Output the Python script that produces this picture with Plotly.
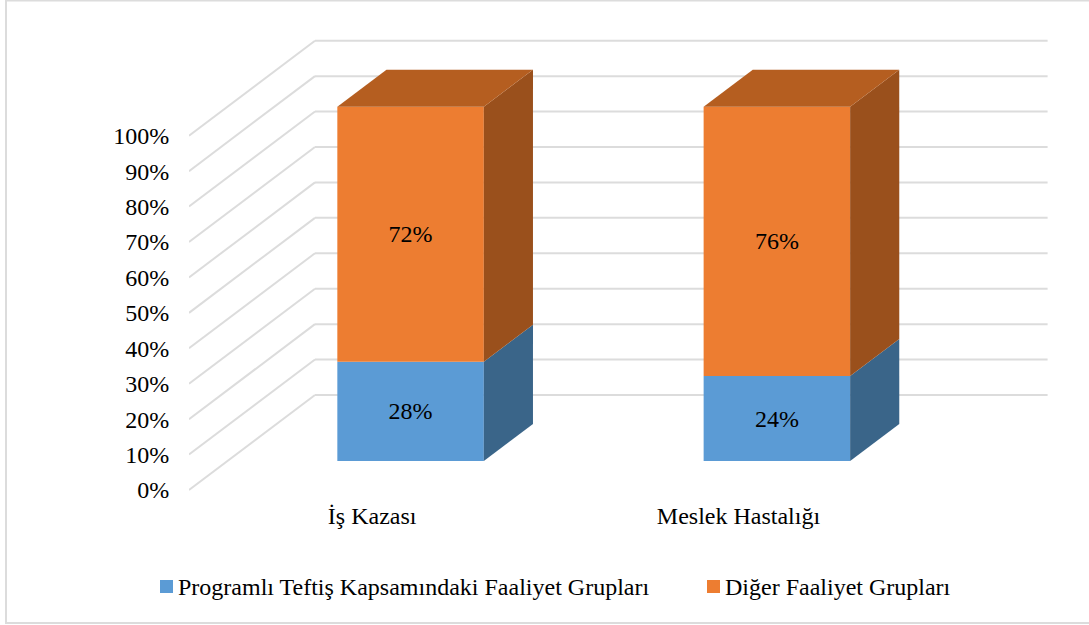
import plotly.graph_objects as go

categories = ["İş Kazası", "Meslek Hastalığı"]
program_values = [28, 24]
other_values = [72, 76]
y_ticks = [0, 10, 20, 30, 40, 50, 60, 70, 80, 90, 100]
legend_names = ["Programlı Teftiş Kapsamındaki Faaliyet Grupları", "Diğer Faaliyet Grupları"]

FONT = "Liberation Serif"
FS = 24
W, H = 1089, 625
L, R, T, B = 189, 1048, 30, 495
PX_PER_CAT = 366.3
PX_PER_PCT = 3.543
Y0_PX = 490.0
DEPTH_DX = 126 / PX_PER_CAT
DEPTH_DY = 95 / PX_PER_PCT
BAR_W = 146.5 / PX_PER_CAT
D_FRONT, D_BACK = 0.305, 0.695
GRID = "#DCDCDC"

x_range = [-0.5, -0.5 + (R - L) / PX_PER_CAT]
y_range = [(Y0_PX - B) / PX_PER_PCT, (Y0_PX - T) / PX_PER_PCT]


def proj(x, pct, d):
    return x + d * DEPTH_DX, pct + d * DEPTH_DY


fig = go.Figure()
shapes = []
# wall + back gridlines
for t in y_ticks:
    xb, yb = proj(-0.5, t, 1)
    xe, _ = proj(1.5, t, 1)
    for x0, y0, x1, y1 in [(-0.5, t, xb, yb), (xb, yb, xe, yb)]:
        shapes.append(dict(type="line", xref="x", yref="y", x0=x0, y0=y0, x1=x1, y1=y1,
                           layer="below", line=dict(color=GRID, width=2)))

positions = list(range(len(categories)))
front_x = [proj(p, 0, D_FRONT)[0] for p in positions]
base0 = proj(0, 0, D_FRONT)[1]

fig.add_bar(x=front_x, y=program_values, base=[base0] * 2, width=BAR_W,
            marker=dict(color="#5B9BD5", line=dict(width=0)),
            text=[f"{v}%" for v in program_values], textposition="inside",
            insidetextanchor="middle", textangle=0, constraintext="none",
            textfont=dict(family=FONT, size=FS, color="#000000"),
            name=legend_names[0], hoverinfo="skip")
fig.add_bar(x=front_x, y=other_values, base=[base0 + v for v in program_values], width=BAR_W,
            marker=dict(color="#ED7D31", line=dict(width=0)),
            text=[f"{v}%" for v in other_values], textposition="inside",
            insidetextanchor="middle", textangle=0, constraintext="none",
            textfont=dict(family=FONT, size=FS, color="#000000"),
            name=legend_names[1], hoverinfo="skip")


def face(pts, color):
    fig.add_scatter(x=[p[0] for p in pts], y=[p[1] for p in pts], mode="lines", fill="toself",
                    fillcolor=color, line=dict(width=0, color=color), showlegend=False, hoverinfo="skip")


for p, low, high in zip(positions, program_values, other_values):
    xr = p + BAR_W / 2
    xl = p - BAR_W / 2
    # right side, blue
    face([proj(xr, 0, D_FRONT), proj(xr, 0, D_BACK), proj(xr, low, D_BACK), proj(xr, low, D_FRONT)], "#3A6589")
    # right side, orange
    face([proj(xr, low, D_FRONT), proj(xr, low, D_BACK), proj(xr, low + high, D_BACK),
          proj(xr, low + high, D_FRONT)], "#9A501C")
    # top
    top = low + high
    face([proj(xl, top, D_FRONT), proj(xr, top, D_FRONT), proj(xr, top, D_BACK), proj(xl, top, D_BACK)], "#B55E20")

# legend drawn to match the reference's tight swatch spacing
annotations = []
for name, color, sx, tx in [(legend_names[0], "#5B9BD5", 160, 177), (legend_names[1], "#ED7D31", 707, 724)]:
    shapes.append(dict(type="rect", xref="paper", yref="paper",
                       x0=(sx - L) / (R - L), x1=(sx + 13 - L) / (R - L),
                       y0=(B - 593) / (B - T), y1=(B - 580) / (B - T),
                       fillcolor=color, line=dict(width=0)))
    annotations.append(dict(xref="paper", yref="paper", x=(tx - L) / (R - L), y=(B - 587) / (B - T),
                            xanchor="left", yanchor="middle", text=name, showarrow=False,
                            xshift=-1, font=dict(family=FONT, size=FS, color="#000000")))

# outer frame (its right edge runs off the picture, as in the reference)
shapes.append(dict(type="rect", xref="paper", yref="paper",
                   x0=(6 - L) / (R - L), x1=(1100 - L) / (R - L),
                   y0=(B - 623) / (B - T), y1=(B - 0.5) / (B - T),
                   line=dict(color=GRID, width=2), layer="below"))

fig.update_layout(
    width=W, height=H, margin=dict(l=L, r=W - R, t=T, b=H - B, pad=0),
    paper_bgcolor="#FFFFFF", plot_bgcolor="#FFFFFF", showlegend=False,
    barmode="overlay", shapes=shapes, annotations=annotations,
    font=dict(family=FONT, size=FS, color="#000000"),
    xaxis=dict(range=x_range, tickmode="array", tickvals=positions, ticktext=categories,
               showgrid=False, zeroline=False, showline=False, ticks="", ticklabelstandoff=4,
               tickfont=dict(family=FONT, size=FS, color="#000000")),
    yaxis=dict(range=y_range, tickmode="array", tickvals=y_ticks, ticktext=[f"{t}%" for t in y_ticks],
               showgrid=False, zeroline=False, showline=False, ticks="outside", ticklen=14,
               tickcolor="rgba(0,0,0,0)", tickfont=dict(family=FONT, size=FS, color="#000000")),
)

fig.write_html("out.html", config={"displayModeBar": False},
               post_script="document.body.style.margin='0';document.body.style.overflow='hidden';")
